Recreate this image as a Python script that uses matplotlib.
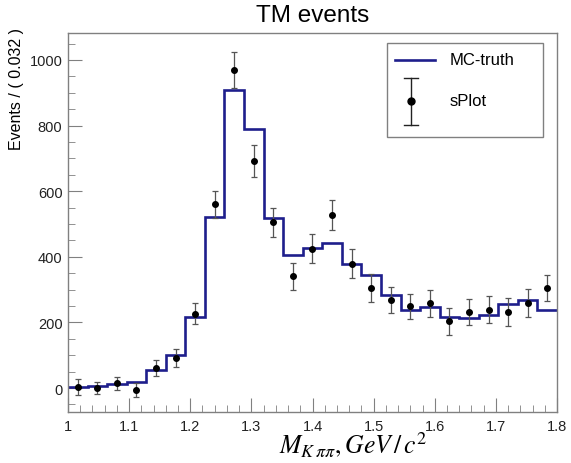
import numpy as np
import matplotlib
matplotlib.use('Agg')
import matplotlib.pyplot as plt
from matplotlib.patches import Rectangle
from matplotlib.lines import Line2D

plt.rcParams['font.family'] = ['Liberation Sans', 'DejaVu Sans']
plt.rcParams['mathtext.fontset'] = 'stix'

# binning: 25 bins of 0.032 between 1.0 and 1.8
x_lo = 1.0
bin_width = 0.032
n_bins = 25

# MC-truth histogram contents
mc_truth = [3, 5, 12, 19, 56, 100, 217, 522, 908, 790, 519, 404, 426,
            443, 379, 344, 284, 237, 248, 217, 213, 223, 256, 268, 238]

# sPlot weighted yields and errors
splot = [3, 0, 14, -5, 61, 91, 226, 560, 970, 692, 505, 340, 425,
         527, 379, 305, 268, 249, 258, 203, 231, 238, 231, 260, 304]
splot_err = [24, 17, 19, 21, 23, 27, 32, 42, 55, 50, 45, 41, 44,
             45, 44, 42, 40, 39, 40, 40, 39, 41, 43, 42, 40]

edges = x_lo + bin_width * np.arange(n_bins + 1)
centers = 0.5 * (edges[:-1] + edges[1:])

W, H = 571, 464
fig = plt.figure(figsize=(W / 100, H / 100), dpi=100)
ax = fig.add_axes([68 / W, 1 - 413 / H, (557 - 68) / W, (413 - 34) / H])

frame_col = '#808080'

ax.stairs(mc_truth, edges, baseline=None, color='#1e1e8c', lw=1.9, zorder=2)
ax.errorbar(centers, splot, yerr=splot_err, fmt='o', color='black', ms=4,
            ecolor='#555555', elinewidth=0.9, capsize=2.2, capthick=0.9, zorder=3)

ax.set_xlim(1.0, 1.8)
ax.set_ylim(-73, 1082)
ax.set_xticks(np.arange(1.0, 1.81, 0.1))
ax.set_xticklabels(['1', '1.1', '1.2', '1.3', '1.4', '1.5', '1.6', '1.7', '1.8'])
ax.set_xticks(np.arange(1.0, 1.801, 0.02), minor=True)
ax.set_yticks([0, 200, 400, 600, 800, 1000])
ax.set_yticks(np.arange(-50, 1081, 50), minor=True)

ax.tick_params(axis='both', which='both', direction='in', color=frame_col,
               labelsize=10.5, labelcolor='#222222')
ax.tick_params(axis='x', which='major', length=10, pad=5)
ax.tick_params(axis='x', which='minor', length=5)
ax.tick_params(axis='y', which='major', length=10, pad=4)
ax.tick_params(axis='y', which='minor', length=5)
for s in ax.spines.values():
    s.set_color(frame_col)
    s.set_linewidth(1.0)


def fx(px):
    return px / W


def fy(py):
    return 1 - py / H


fig.text(fx(313), fy(15.5), 'TM events', ha='center', va='center', fontsize=17.5)
fig.text(fx(17), fy(28), 'Events / ( 0.032 )', rotation=90, ha='center',
         va='top', fontsize=11.5)
fig.text(fx(428), fy(453), r'$M_{K\,\pi\pi}, GeV\,/\,c^{2}$', ha='right',
         va='baseline', fontsize=18.5)

# legend box drawn in figure pixels
fig.patches.append(Rectangle((fx(387), fy(138)), fx(543) - fx(387), fy(44) - fy(138),
                             transform=fig.transFigure, fill=False,
                             edgecolor=frame_col, lw=1.0))
fig.lines.append(Line2D([fx(395), fx(435)], [fy(60.5), fy(60.5)],
                        transform=fig.transFigure, color='#1e1e8c', lw=1.9))
fig.lines.append(Line2D([fx(411), fx(411)], [fy(79), fy(126)],
                        transform=fig.transFigure, color='#222222', lw=1.0))
for yy in (79, 126):
    fig.lines.append(Line2D([fx(404), fx(418)], [fy(yy), fy(yy)],
                            transform=fig.transFigure, color='#222222', lw=1.0))
fig.lines.append(Line2D([fx(411)], [fy(102)], transform=fig.transFigure,
                        marker='o', ms=5, color='black'))
fig.text(fx(450), fy(60.5), 'MC-truth', ha='left', va='center', fontsize=12)
fig.text(fx(450), fy(101), 'sPlot', ha='left', va='center', fontsize=12)

fig.savefig('out.png', dpi=100)
